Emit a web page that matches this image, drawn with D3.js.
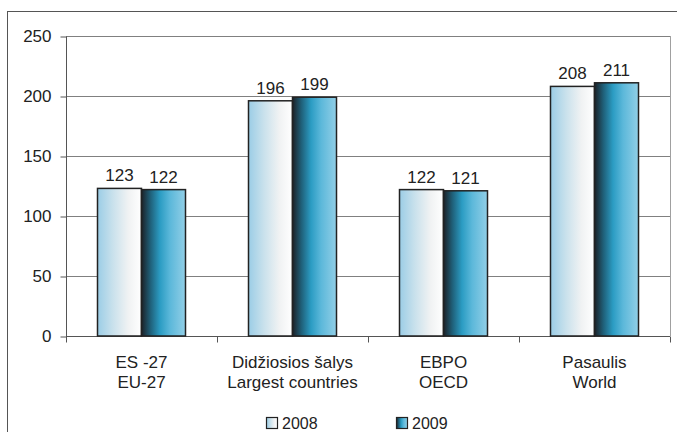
<!DOCTYPE html>
<html><head><meta charset="utf-8">
<script src="https://cdn.jsdelivr.net/npm/d3@7"></script>
<style>body{margin:0;background:#fff}svg{display:block;font-family:"Liberation Sans",Arial,sans-serif}</style>
</head><body><svg id="c" width="677" height="432"></svg>
<script>
const categories = [["ES -27","EU-27"],["Didžiosios šalys","Largest countries"],["EBPO","OECD"],["Pasaulis","World"]];
const seriesNames = ["2008","2009"];
const values2008 = [123,196,122,208];
const values2009 = [122,199,121,211];
const yTicks = [0,50,100,150,200,250];

const FS = 17;
const svg = d3.select("#c");
const m = {l:66, r:670, t:36, b:336};
const defs = svg.append("defs");
const g1 = defs.append("linearGradient").attr("id","g2008");
[[0,"#9bcde6"],[0.35,"#c9e1ec"],[0.7,"#f0f2f3"],[1,"#ffffff"]].forEach(s=>g1.append("stop").attr("offset",s[0]).attr("stop-color",s[1]));
const g2 = defs.append("linearGradient").attr("id","g2009");
[[0,"#1c2127"],[0.2,"#1f5f78"],[0.42,"#2b9cc3"],[0.65,"#5cb8da"],[1,"#92cfe7"]].forEach(s=>g2.append("stop").attr("offset",s[0]).attr("stop-color",s[1]));

// outer border
svg.append("rect").attr("x",7.5).attr("y",11.5).attr("width",700).attr("height",440).attr("fill","none").attr("stroke","#555").attr("stroke-width",1);

const x = d3.scaleBand().domain(d3.range(categories.length)).range([m.l,m.r]);
const xs = d3.scaleBand().domain(seriesNames).range([0,88]);
const y = d3.scaleLinear().domain([0,250]).range([m.b,m.t]);

// gridlines
svg.append("g").selectAll("line").data(yTicks.filter(d=>d>0)).join("line")
  .attr("x1",m.l).attr("x2",m.r).attr("y1",d=>Math.round(y(d))+0.5).attr("y2",d=>Math.round(y(d))+0.5)
  .attr("stroke","#808080").attr("stroke-width",1);
// right border
svg.append("line").attr("x1",m.r+0.5).attr("x2",m.r+0.5).attr("y1",m.t).attr("y2",m.b).attr("stroke","#a0a0a0");

// y axis
const ya = svg.append("g").attr("transform",`translate(${m.l+0.5},0.5)`).call(d3.axisLeft(y).tickValues(yTicks).tickSize(6).tickPadding(9));
ya.select(".domain").attr("stroke","#555").attr("d",`M-0,${m.t}V${m.b}`);
ya.selectAll(".tick line").attr("stroke","#555");
ya.selectAll(".tick text").attr("font-size",FS).attr("fill","#222").attr("font-family","Liberation Sans, Arial, sans-serif");

// x axis
const xa = svg.append("g").attr("transform",`translate(0,${m.b+0.5})`);
xa.append("line").attr("x1",m.l).attr("x2",m.r).attr("stroke","#555");
xa.selectAll(".t").data(d3.range(categories.length+1)).join("line")
  .attr("x1",d=>Math.round(m.l+d*x.step())+0.5).attr("x2",d=>Math.round(m.l+d*x.step())+0.5).attr("y1",0).attr("y2",6).attr("stroke","#555");

const data = categories.map((c,i)=>({i, vals:[values2008[i],values2009[i]]}));
const grp = svg.append("g").selectAll("g").data(data).join("g")
  .attr("transform",d=>`translate(${x(d.i)+x.bandwidth()/2-44},0)`);
grp.selectAll("rect").data(d=>d.vals.map((v,k)=>({v,k}))).join("rect")
  .attr("x",d=>xs(seriesNames[d.k])).attr("width",xs.bandwidth())
  .attr("y",d=>y(d.v)).attr("height",d=>y(0)-y(d.v))
  .attr("fill",d=>`url(#g${seriesNames[d.k]})`).attr("stroke","#222").attr("stroke-width",1.5);
grp.selectAll("text").data(d=>d.vals.map((v,k)=>({v,k}))).join("text")
  .attr("x",d=>xs(seriesNames[d.k])+xs.bandwidth()/2).attr("y",d=>y(d.v)-7)
  .attr("text-anchor","middle").attr("font-size",FS).attr("fill","#222").text(d=>d.v);

// category labels
svg.append("g").selectAll("text").data(categories).join("text")
  .attr("x",(d,i)=>x(i)+x.bandwidth()/2).attr("y",368).attr("text-anchor","middle")
  .attr("font-size",FS).attr("fill","#222")
  .each(function(d){
    const t=d3.select(this);
    d.forEach((line,j)=>t.append("tspan").attr("x",t.attr("x")).attr("dy",j?20:0).text(line));
  });

// legend
const legX = [266,396];
const leg = svg.append("g").selectAll("g").data(seriesNames).join("g")
  .attr("transform",(d,i)=>`translate(${legX[i]},417)`);
leg.append("rect").attr("x",0.5).attr("y",0.5).attr("width",11).attr("height",11)
  .attr("fill",d=>`url(#g${d})`).attr("stroke","#222").attr("stroke-width",1.2);
leg.append("text").attr("x",16).attr("y",11.5).attr("font-size",16).attr("fill","#222").text(d=>d);
</script></body></html>
